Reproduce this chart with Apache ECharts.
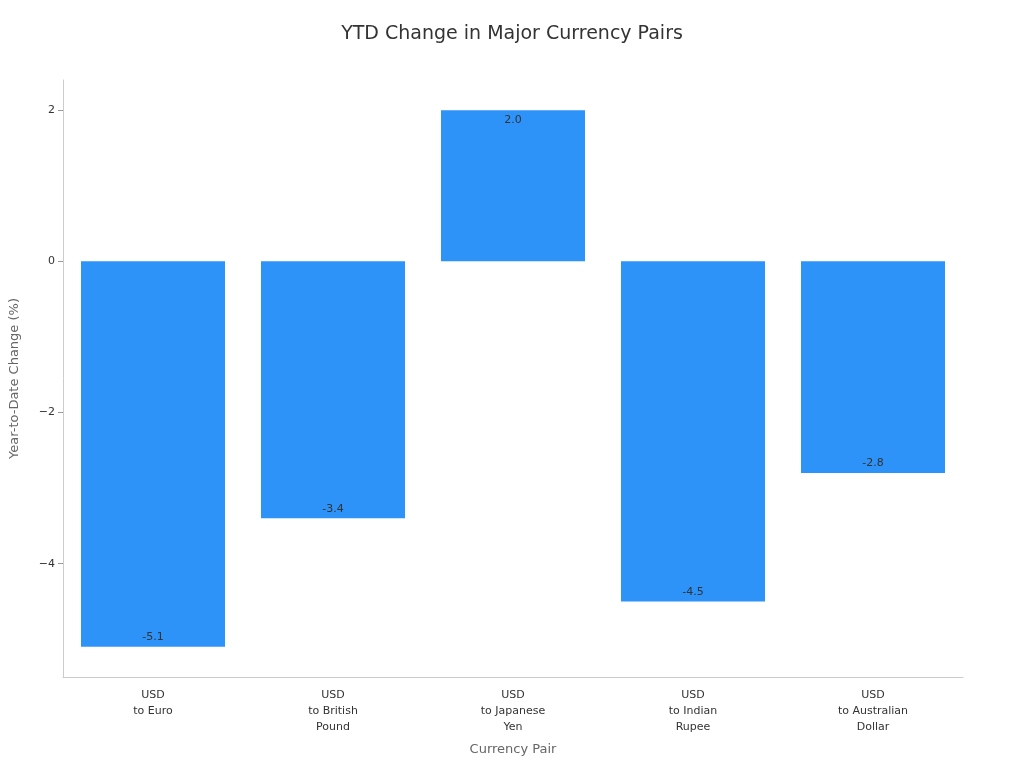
<!DOCTYPE html>
<html><head><meta charset="utf-8">
<script src="https://cdn.jsdelivr.net/npm/echarts@6/dist/echarts.min.js"></script>
<style>html,body{margin:0;padding:0;background:#fff}#c{width:1024px;height:768px}</style>
</head><body><div id="c"></div>
<script>
const categories = ["USD\nto Euro", "USD\nto British\nPound", "USD\nto Japanese\nYen", "USD\nto Indian\nRupee", "USD\nto Australian\nDollar"];
const values = [-5.1, -3.4, 2.0, -4.5, -2.8];
const chart = echarts.init(document.getElementById('c'));
chart.setOption({
  animation: false,
  title: {text: 'YTD Change in Major Currency Pairs', left: 'center', top: 20,
    textStyle: {fontFamily: 'DejaVu Sans', fontSize: 19, fontWeight: 'normal', color: '#333'}},
  grid: {left: 62, right: 61, top: 80, bottom: 91},
  xAxis: {type: 'category', data: categories, name: 'Currency Pair', nameLocation: 'middle', nameGap: 66,
    nameTextStyle: {fontFamily: 'DejaVu Sans', fontSize: 13, color: '#666'},
    axisLine: {onZero: false, lineStyle: {color: '#ccc'}},
    axisTick: {alignWithLabel: true, lineStyle: {color: '#999'}},
    axisLabel: {fontFamily: 'DejaVu Sans', fontSize: 11, color: '#333', lineHeight: 16, margin: 10}},
  yAxis: {type: 'value', min: -5.5, max: 2.4, name: 'Year-to-Date Change (%)', nameLocation: 'middle', nameGap: 42,
    nameTextStyle: {fontFamily: 'DejaVu Sans', fontSize: 13, color: '#666'},
    splitLine: {show: false},
    axisLine: {show: true, lineStyle: {color: '#ccc'}},
    axisTick: {show: true, lineStyle: {color: '#999'}},
    axisLabel: {showMinLabel: false, showMaxLabel: false, fontFamily: 'DejaVu Sans', fontSize: 11, color: '#333',
      formatter: v => String(v).replace('-', '\u2212')}},
  series: [{type: 'bar', barWidth: '80%',
    data: values.map(v => ({value: v, label: {position: v >= 0 ? 'insideTop' : 'insideBottom', distance: 4}})),
    itemStyle: {color: '#2E93F8'},
    label: {show: true, fontFamily: 'DejaVu Sans', fontSize: 11, color: '#333', formatter: p => p.value.toFixed(1)}}]
});
</script></body></html>
